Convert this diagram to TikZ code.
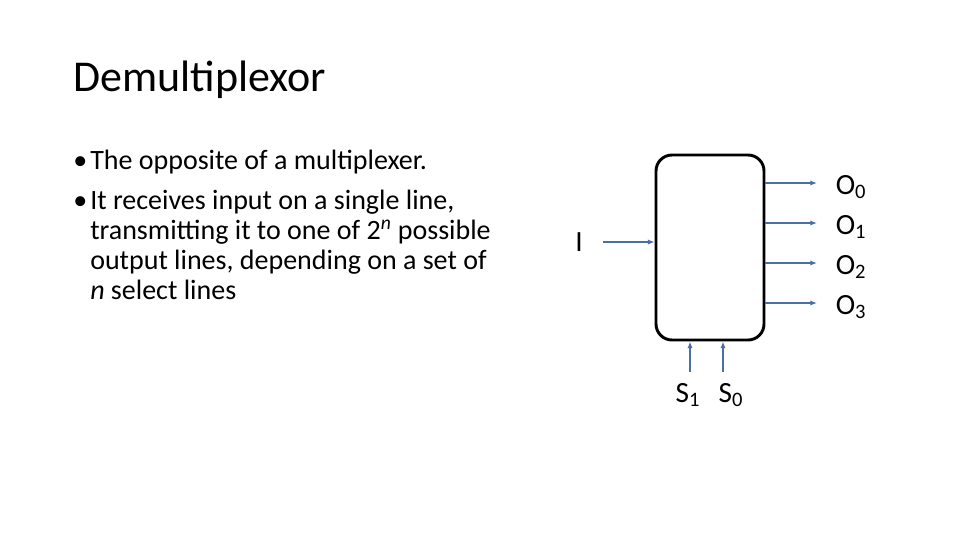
\documentclass[tikz,border=0pt]{standalone}
\usepackage{fontspec}
\setmainfont{Carlito}
\usetikzlibrary{arrows.meta}
\definecolor{wire}{HTML}{4A6FA5}
\newcommand{\mybul}{\makebox[12.75pt][l]{\textbullet}}
\begin{document}
\begin{tikzpicture}[x=0.75pt,y=-0.75pt,
  wire/.style={draw=wire,line width=1.1pt,-{Latex[length=5pt,width=4pt]}},
  lbl/.style={inner sep=0pt,font=\fontsize{22}{22}\selectfont},
  body/.style={inner sep=0pt,anchor=west,align=left,font=\fontsize{21}{22.5}\selectfont}]
\useasboundingbox (0,0) rectangle (960,540);
\node[anchor=west,inner sep=0pt,font=\fontsize{33}{33}\selectfont] (title) at (73,80) {Demultiplexor};
\node[body] (b1) at (73,162) {\mybul The opposite of a multiplexer.};
\node[body,anchor=north west] (b2) at (73,190) {\mybul It receives input on a single line,\\
\hspace*{12.75pt}transmitting it to one of 2\textsuperscript{\itshape n} possible\\
\hspace*{12.75pt}output lines, depending on a set of\\
\hspace*{12.75pt}\textit{n} select lines};
\node[draw,line width=2.2pt,rounded corners=12pt,minimum width=108pt*0.75,minimum height=185pt*0.75,inner sep=0pt] (box) at (710,247.5) {};
\node[lbl] (I) at (579,242) {I};
\coordinate (iin) at (603,242);
\draw[wire] (iin) -- (box.west |- iin);
\foreach \y/\k in {183/0,223/1,263/2,303/3}{
  \coordinate (o\k) at (817,\y);
  \draw[wire] (box.east |- o\k) -- (o\k);
  \node[lbl] (O\k) at (851,\y+4) {O\textsubscript{\k}};
}
\foreach \x/\k/\dx in {690/1/-2,723/0/8}{
  \coordinate (s\k) at (\x,372);
  \draw[wire] (s\k) -- (box.south -| s\k);
  \node[lbl] (S\k) at (\x+\dx,395) {S\textsubscript{\k}};
}
\end{tikzpicture}
\end{document}
